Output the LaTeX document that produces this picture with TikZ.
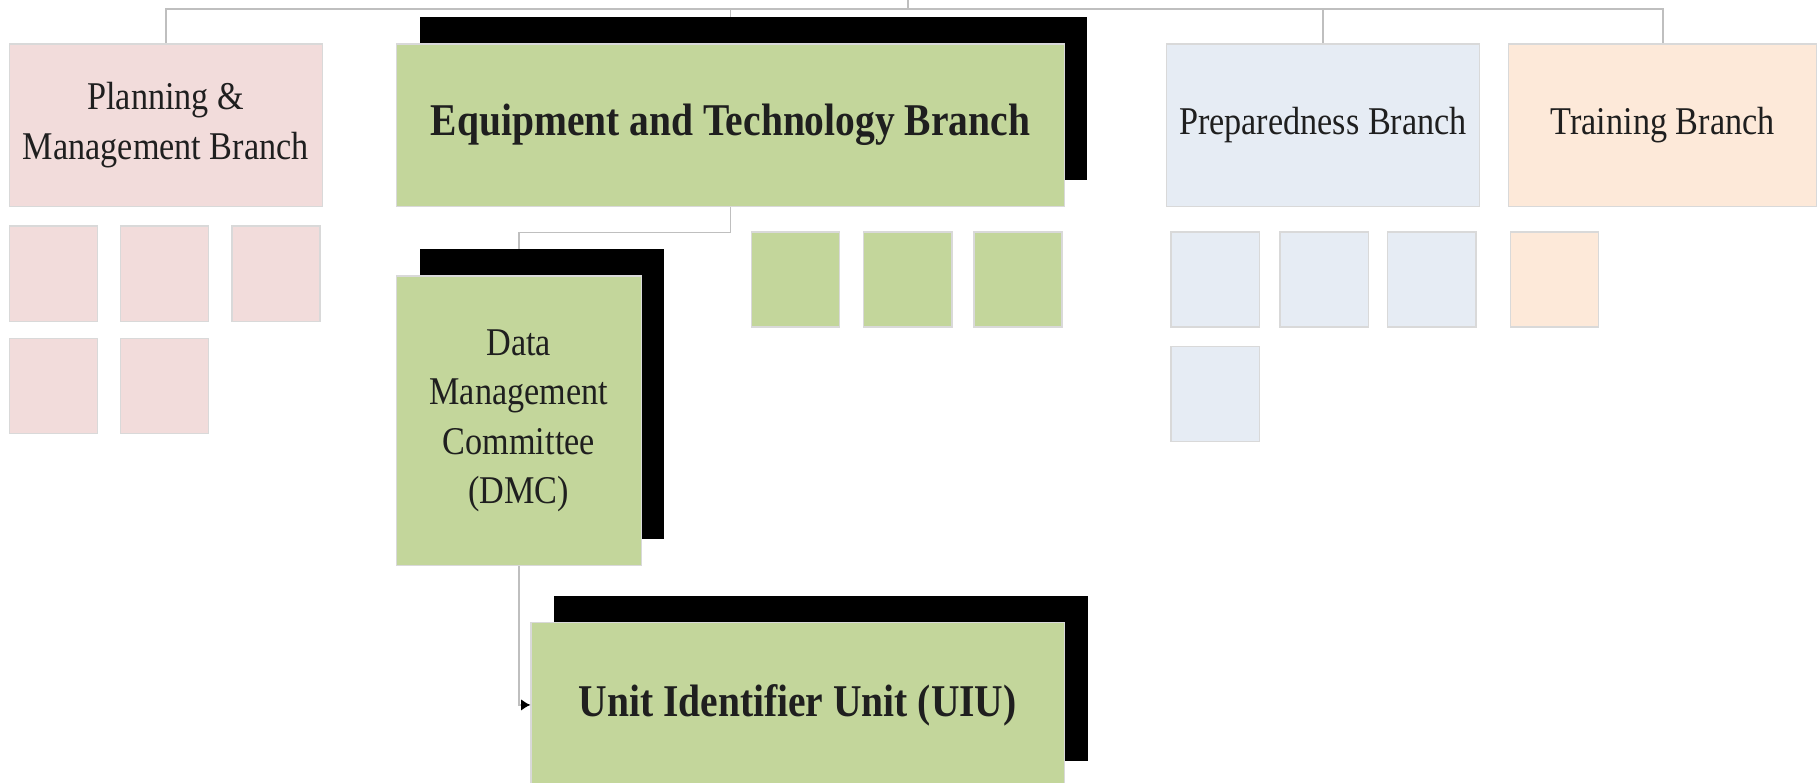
\documentclass[tikz,border=0pt]{standalone}
\usepackage{fontspec}
\setmainfont{Liberation Serif}[FakeStretch=0.87]
\usetikzlibrary{arrows.meta,shadows}
\definecolor{pmpink}{HTML}{F2DCDB}
\definecolor{etgreen}{HTML}{C3D69B}
\definecolor{prepblue}{HTML}{E6ECF4}
\definecolor{trpeach}{HTML}{FDE9D9}
\definecolor{connc}{HTML}{BFBFBF}
\begin{document}
\begin{tikzpicture}[x=0.02cm,y=-0.02cm,
  box/.style={draw=black!15, line width=0.6pt, inner sep=2pt, align=center, text=black!88, font=\fontsize{19.3}{24.3}\selectfont},
  branch/.style={box, minimum width=5.4cm, minimum height=2.8cm},
  sq/.style={box, minimum width=1.52cm, minimum height=1.64cm},
  blackshadow/.style={drop shadow={shadow xshift=0.4cm, shadow yshift=0.46cm, fill=black, opacity=1}},
  conn/.style={draw=connc, line width=0.9pt},
  boldtxt/.style={font=\fontsize{22.3}{26}\selectfont\bfseries}
]
\useasboundingbox (0,0) rectangle (1568,675);
% branches
\node[branch, fill=pmpink] (PM) at (143,108) {Planning \&\\Management Branch};
\node[branch, fill=etgreen, minimum width=11.52cm, blackshadow, boldtxt] (ET) at (630,108) {Equipment and Technology Branch};
\node[branch, fill=prepblue] (PR) at (1141,108) {Preparedness Branch};
\node[branch, fill=trpeach, minimum width=5.32cm] (TR) at (1434,108) {Training Branch};
% small squares
\node[sq, fill=pmpink] (pm1) at (46,236) {};
\node[sq, fill=pmpink] (pm2) at (142,236) {};
\node[sq, fill=pmpink] (pm3) at (238,236) {};
\node[sq, fill=pmpink] (pm4) at (46,333) {};
\node[sq, fill=pmpink] (pm5) at (142,333) {};
\node[sq, fill=etgreen] (et1) at (686,241) {};
\node[sq, fill=etgreen] (et2) at (783,241) {};
\node[sq, fill=etgreen] (et3) at (878,241) {};
\node[sq, fill=prepblue] (pr1) at (1048,241) {};
\node[sq, fill=prepblue] (pr2) at (1142,241) {};
\node[sq, fill=prepblue] (pr3) at (1235,241) {};
\node[sq, fill=prepblue] (pr4) at (1048,340) {};
\node[sq, fill=trpeach] (tr1) at (1341,241) {};
% committee and unit
\node[box, fill=etgreen, minimum width=4.22cm, minimum height=5cm, blackshadow] (DMC) at (447.5,363) {Data\\Management\\Committee\\(DMC)};
\node[box, fill=etgreen, minimum width=9.2cm, minimum height=2.84cm, blackshadow, boldtxt] (UIU) at (688,608) {Unit Identifier Unit (UIU)};
% connectors
\coordinate (rootT) at (783,0);
\coordinate (bus) at (783,8);
\draw[conn] (rootT) -- (bus);
\draw[conn] (bus) -| (PM.north);
\draw[conn] (bus) -| ([yshift=0.46cm]ET.north);
\draw[conn] (bus) -| (PR.north);
\draw[conn] (bus) -| (TR.north);
\draw[conn] (ET.south) -- ++(0,22) -| ([yshift=0.46cm]DMC.north);
\draw[conn,-{Latex[length=0.16cm,width=0.2cm,color=black]}] (DMC.south) |- (UIU.west);
\end{tikzpicture}
\end{document}
